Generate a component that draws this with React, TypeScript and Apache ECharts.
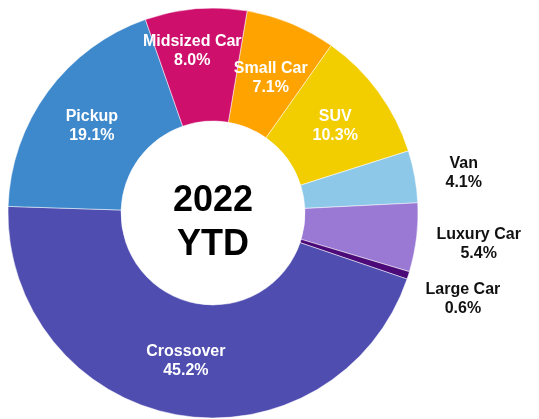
import React, { useEffect, useRef } from "react";
import * as echarts from "echarts";

const categories = ["Small Car", "SUV", "Van", "Luxury Car", "Large Car", "Crossover", "Pickup", "Midsized Car"];
const shares = [7.1, 10.3, 4.1, 5.4, 0.6, 45.2, 19.1, 8.0];
const colors = ["#FFA300", "#F2CD00", "#8EC8E8", "#9A79D5", "#4C0A78", "#4F4DB0", "#3E88CC", "#CE0F6C"];
const outsideLabels = ["Van", "Luxury Car", "Large Car"];
const centerLines = ["2022", "YTD"];

const labelShift: Record<string, [number, number]> = {
  "Midsized Car": [-8, -12],
  "Small Car": [0, 4],
  "SUV": [0, 2],
  "Pickup": [1, 2],
  "Crossover": [0, -2],
  "Van": [-4, -2],
  "Luxury Car": [-15, 4],
  "Large Car": [-17, 18],
};

export default function App() {
  const ref = useRef<HTMLDivElement>(null);
  useEffect(() => {
    if (!ref.current) return;
    const chart = echarts.init(ref.current, null, { renderer: "svg" });
    const font = "'Liberation Sans', Arial, Helvetica, sans-serif";
    const data = categories.map((name, i) => {
      const outside = outsideLabels.includes(name);
      return {
        name,
        value: shares[i],
        itemStyle: { color: colors[i] },
        label: outside
          ? {
              position: "outside",
              color: "#111",
              formatter: "{c|{b}}\n{c|{c}%}",
              rich: { c: { align: "center", color: "#111", fontSize: 16, fontWeight: "bold", fontFamily: font, lineHeight: 19 } },
            }
          : {
              position: "inside",
              color: "#fff",
              formatter: (p: any) => `${p.name}\n${p.value.toFixed(1)}%`,
            },
        labelLine: { show: false },
      };
    });
    chart.setOption({
      animation: false,
      series: [
        {
          type: "pie",
          center: [213, 213],
          radius: [92, 205],
          startAngle: 80.4,
          clockwise: true,
          avoidLabelOverlap: false,
          itemStyle: { borderColor: "#ffffff", borderWidth: 0.5 },
          label: {
            fontSize: 16,
            fontWeight: "bold",
            fontFamily: font,
            lineHeight: 19,
          },
          labelLine: { show: false, length: 15, length2: 15 },
          labelLayout: (p: any) => {
            const nm = categories[p.dataIndex];
            const s = labelShift[nm];
            return s ? { dx: s[0], dy: s[1] } : {};
          },
          emphasis: { disabled: true },
          data,
        },
      ],
      graphic: [
        {
          type: "text",
          x: 213,
          y: 220,
          style: {
            text: centerLines.join("\n"),
            textAlign: "center",
            textVerticalAlign: "middle",
            font: `bold 36px ${font}`,
            lineHeight: 44,
            fill: "#000",
          },
        },
      ],
    });
    return () => chart.dispose();
  }, []);
  return <div ref={ref} style={{ position: "fixed", left: 0, top: 0, width: 539, height: 419 }} />;
}
